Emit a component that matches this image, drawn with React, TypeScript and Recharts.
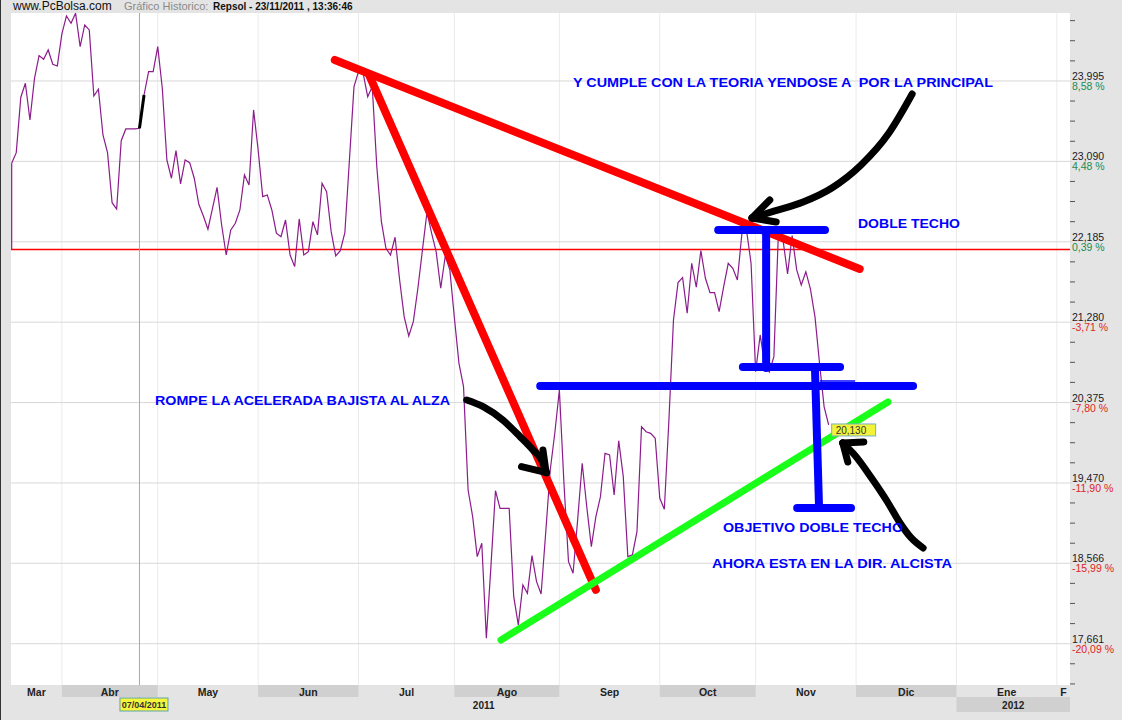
import React from "react";
import { ComposedChart, Line, XAxis, YAxis, CartesianGrid, ReferenceLine, ReferenceDot } from "recharts";

// Repsol closes, one per trading day (index 0 = mid March 2011, 179 = 23/11/2011)
const prices = [
  23.069, 23.188, 23.812, 23.969, 23.556, 24.025, 24.28, 24.239, 24.344, 24.183,
  24.164, 24.524, 24.727, 24.644, 24.757, 24.381, 24.625, 24.569, 23.826, 23.902,
  23.387, 23.188, 22.625, 22.554, 23.323, 23.455, 23.455, 23.455, 23.463, 23.837,
  24.1, 24.1, 24.381, 23.913, 23.106, 22.9, 23.21, 22.836, 23.106, 23.075,
  22.9, 22.607, 22.475, 22.326, 22.562, 22.798, 22.374, 22.036, 22.318, 22.393,
  22.543, 22.937, 22.824, 23.669, 23.218, 22.693, 22.712, 22.543, 22.281, 22.242,
  22.43, 22.036, 21.905, 22.442, 22.036, 22.074, 22.411, 22.262, 22.844, 22.749,
  22.299, 22.025, 22.085, 22.287, 23.106, 23.931, 24.1, 24.082, 23.818, 23.931,
  23.03, 22.411, 22.112, 22.036, 22.236, 21.755, 21.339, 21.125, 21.286, 21.662,
  22.093, 22.52, 22.281, 22.074, 21.662, 22.025, 21.868, 21.327, 20.817, 20.554,
  19.391, 19.091, 18.641, 18.791, 17.722, 18.528, 19.383, 19.185, 19.185, 19.185,
  18.19, 17.872, 18.322, 18.228, 18.652, 18.359, 18.221, 18.907, 19.616, 20.033,
  20.517, 19.47, 18.584, 18.454, 19.054, 19.692, 19.203, 18.753, 19.091, 19.316,
  19.804, 19.785, 19.335, 19.946, 19.541, 18.641, 18.66, 18.922, 20.104, 20.047,
  20.029, 19.973, 19.298, 19.174, 20.179, 21.305, 21.725, 21.781, 21.38, 21.943,
  21.673, 22.085, 21.774, 21.612, 21.612, 21.398, 21.68, 21.943, 21.887, 21.755,
  22.281, 22.318, 21.943, 20.723, 21.136, 20.798, 20.719, 20.892, 22.299, 22.205,
  21.823, 22.254, 21.868, 21.699, 21.848, 21.654, 21.342, 20.817, 20.329, 20.123,
];
const basePrice = 22.098;
const lastLabel = "20,130";

const monthLabels = ["Mar", "Abr", "May", "Jun", "Jul", "Ago", "Sep", "Oct", "Nov", "Dic", "Ene", "F"];
const monthStarts = [-0.15, 11, 32, 54, 76, 97, 120, 142, 163, 185, 207, 229];
const yearLabels = ["2011", "2012"];
const yearStarts = [-0.15, 207];

const priceTicks = [17.661, 18.566, 19.47, 20.375, 21.28, 22.185, 23.09, 23.995];
const priceLabels = ["17,661", "18,566", "19,470", "20,375", "21,280", "22,185", "23,090", "23,995"];
const pctLabels = ["-20,09 %", "-15,99 %", "-11,90 %", "-7,80 %", "-3,71 %", "0,39 %", "4,48 %", "8,58 %"];
const minorTicks = [
  17.208, 17.435, 17.887, 18.114, 18.34, 18.792, 19.018, 19.245, 19.697, 19.923, 20.149,
  20.602, 20.828, 21.054, 21.506, 21.733, 21.959, 22.411, 22.638, 22.864, 23.316, 23.543,
  23.769, 24.221, 24.448, 24.674,
];

const crossDay = 28;
const crossLabel = "07/04/2011";

// hand drawn annotations, in [day index, price]
const redLong = [[70.8, 24.231], [185.8, 21.879]];
const redFast = [[78.3, 24.063], [128.0, 18.266]];
const greenSupport = [[107.2, 17.703], [192.0, 20.382]];
const blueBars = [
  [[154.8, 22.318], [178.2, 22.318]],
  [[165.3, 22.307], [165.3, 20.765]],
  [[160.2, 20.776], [181.5, 20.776]],
  [[115.8, 20.562], [197.5, 20.562]],
  [[176.0, 20.765], [176.9, 19.189]],
  [[172.1, 19.189], [183.9, 19.189]],
];
const blueThin = [[177.1, 20.618], [184.8, 20.618]];
const blackMark = [[28.0, 23.463], [29.0, 23.837]];
const arrowTop = [[162.2, 22.453], [167.2, 22.532], [173.4, 22.633], [179.7, 22.791], [186.1, 23.05], [192.2, 23.41], [197.3, 23.849]];
const arrowTopHead = [[[162.2, 22.453], [166.1, 22.656]], [[162.2, 22.453], [167.5, 22.408]]];
const arrowBreak = [[99.7, 20.404], [103.3, 20.329], [107.6, 20.179], [111.4, 19.991], [114.2, 19.842], [116.2, 19.718], [117.1, 19.586]];
const arrowBreakHead = [[[116.4, 19.842], [117.1, 19.586]], [[111.7, 19.654], [117.2, 19.586]]];
const arrowNow = [[182.1, 19.92], [184.7, 19.785], [188.4, 19.526], [191.9, 19.256], [194.5, 19.031], [197.1, 18.851], [199.7, 18.738]];
const arrowNowHead = [[[182.1, 19.92], [186.7, 19.931]], [[182.1, 19.92], [183.2, 19.706]]];

const notes = [
  { text: "Y CUMPLE CON LA TEORIA YENDOSE A  POR LA PRINCIPAL", x: 573, y: 87, w: 420 },
  { text: "DOBLE TECHO", x: 858, y: 228, w: 102 },
  { text: "ROMPE LA ACELERADA BAJISTA AL ALZA", x: 155, y: 405, w: 295 },
  { text: "OBJETIVO DOBLE TECHO", x: 723, y: 532, w: 180 },
  { text: "AHORA ESTA EN LA DIR. ALCISTA", x: 712, y: 568, w: 240 },
];

const W = 1122;
const H = 720;
const X_MIN = -0.15;
const X_MAX = 231.88;
const Y_MIN = 17.196;
const Y_MAX = 24.76;
const PLOT = { left: 11, top: 13, width: 1059, height: 672 };
const PX_PER_DAY = PLOT.width / (X_MAX - X_MIN);
const FONT = "'Liberation Sans', Arial, sans-serif";

const series = prices.map((price, i) => ({ i, price }));
const pts = (arr: number[][]) => arr.map(([i, v]) => ({ i, v }));
const seg = (arr: number[][]) => arr.map(([x, y]) => ({ x, y }));

function PriceTick(props: any) {
  const { x, y, payload } = props;
  const j = priceTicks.findIndex((t) => Math.abs(t - payload.value) < 1e-4);
  if (j < 0) return <line x1={x} x2={x + 5} y1={y} y2={y} stroke="#555" />;
  const neg = pctLabels[j].startsWith("-");
  return (
    <g fontFamily={FONT} fontSize={10.5}>
      <line x1={x} x2={x + 2} y1={y} y2={y} stroke="#d6d6d6" />
      <text x={x + 2} y={y - 1} fill="#1a1a2a">{priceLabels[j]}</text>
      <text x={x + 2} y={y + 9} fill={neg ? "#e02424" : "#1f8a52"}>{pctLabels[j]}</text>
    </g>
  );
}

function MonthTick(props: any) {
  const { x, y, payload } = props;
  const k = monthStarts.indexOf(payload.value);
  if (k < 0) return null;
  const end = k + 1 < monthStarts.length ? monthStarts[k + 1] : X_MAX;
  const w = (end - monthStarts[k]) * PX_PER_DAY;
  const dark = k % 2 === 1 && k < 10;
  const yk = yearStarts.indexOf(payload.value);
  let year = null;
  if (yk >= 0) {
    const yEnd = yk + 1 < yearStarts.length ? yearStarts[yk + 1] : X_MAX;
    const yw = (yEnd - yearStarts[yk]) * PX_PER_DAY;
    year = (
      <g>
        {yk === 1 && <rect x={x} y={y + 12} width={yw} height={15} fill="#d0d0d0" />}
        <text x={x + yw / 2} y={y + 24} textAnchor="middle" fontSize={10} fontWeight="bold" fill="#222">
          {yearLabels[yk]}
        </text>
      </g>
    );
  }
  return (
    <g fontFamily={FONT}>
      {dark && <rect x={x} y={y} width={w} height={12} fill="#d0d0d0" />}
      <text x={x + w / 2} y={y + 10.5} textAnchor="middle" fontSize={10.5} fontWeight="bold" fill="#222">
        {monthLabels[k]}
      </text>
      {year}
    </g>
  );
}

function LastPrice(props: any) {
  const { cx, cy } = props;
  return (
    <g fontFamily={FONT}>
      <rect x={cx + 3} y={cy - 1} width={44} height={12} fill="#f2f23a" stroke="#7ab0c4" />
      <text x={cx + 7} y={cy + 9} fontSize={10} fill="#333">{lastLabel}</text>
    </g>
  );
}

function CrossBox(props: any) {
  const { cx, cy } = props;
  return (
    <g fontFamily={FONT}>
      <line x1={cx} x2={cx} y1={cy} y2={cy + 13} stroke="#7fb9b9" />
      <rect x={cx - 19.5} y={cy + 13} width={48} height={13} fill="#f5f53c" stroke="#5fa3a8" />
      <text x={cx + 4.5} y={cy + 23} textAnchor="middle" fontSize={9} fontWeight="bold" fill="#333">
        {crossLabel}
      </text>
    </g>
  );
}

const lineBase = { dot: false, activeDot: false, isAnimationActive: false, legendType: "none" as const };

export default function App() {
  return (
    <div style={{ position: "fixed", left: 0, top: 0, width: W, height: H, background: "#e4e4e4", overflow: "hidden" }}>
      <ComposedChart width={W} height={H} data={series} margin={{ top: PLOT.top, right: 0, left: PLOT.left, bottom: 0 }}>
        <CartesianGrid horizontal={false} verticalValues={monthStarts.slice(1)} stroke="#ebebeb" fill="#ffffff" />
        <CartesianGrid vertical={false} horizontalValues={priceTicks} stroke="#d8d8d8" />
        <XAxis
          dataKey="i"
          type="number"
          domain={[X_MIN, X_MAX]}
          allowDataOverflow
          ticks={monthStarts}
          interval={0}
          height={35}
          axisLine={false}
          tickLine={false}
          tickSize={0}
          tickMargin={0}
          tick={<MonthTick />}
        />
        <YAxis
          orientation="right"
          type="number"
          domain={[Y_MIN, Y_MAX]}
          allowDataOverflow
          ticks={[...priceTicks, ...minorTicks].sort((a, b) => a - b)}
          interval={0}
          width={52}
          axisLine={false}
          tickLine={false}
          tickSize={0}
          tickMargin={0}
          tick={<PriceTick />}
        />
        <ReferenceLine y={basePrice} stroke="#ff0000" strokeWidth={1.5} />
        <ReferenceLine x={crossDay} stroke="#7fbaba" strokeWidth={1} />
        <ReferenceLine segment={[{ x: 0, y: basePrice }, { x: 0, y: prices[0] }]} stroke="#8c1c8c" strokeWidth={1.2} />
        <Line dataKey="price" stroke="#8c1c8c" strokeWidth={1.2} {...lineBase} />
        <ReferenceDot x={prices.length - 1} y={prices[prices.length - 1]} r={1} shape={<LastPrice />} />
        <ReferenceDot x={crossDay} y={Y_MIN} r={1} shape={<CrossBox />} />
        <ReferenceLine segment={seg(blackMark)} stroke="#000" strokeWidth={3} />
        <ReferenceLine segment={seg(redLong)} stroke="#ff0000" strokeWidth={8} strokeLinecap="round" />
        <ReferenceLine segment={seg(redFast)} stroke="#ff0000" strokeWidth={8} strokeLinecap="round" />
        <ReferenceLine segment={seg(greenSupport)} stroke="#1aff1a" strokeWidth={7} strokeLinecap="round" />
        {blueBars.map((b, n) => (
          <ReferenceLine key={n} segment={seg(b)} stroke="#0000ff" strokeWidth={8} strokeLinecap="round" />
        ))}
        <ReferenceLine segment={seg(blueThin)} stroke="#0000ff" strokeWidth={1.5} />
        <Line data={pts(arrowTop)} dataKey="v" type="monotone" stroke="#000" strokeWidth={7} strokeLinecap="round" {...lineBase} />
        <Line data={pts(arrowBreak)} dataKey="v" type="monotone" stroke="#000" strokeWidth={7} strokeLinecap="round" {...lineBase} />
        <Line data={pts(arrowNow)} dataKey="v" type="monotone" stroke="#000" strokeWidth={7} strokeLinecap="round" {...lineBase} />
        {[...arrowTopHead, ...arrowBreakHead, ...arrowNowHead].map((h, n) => (
          <ReferenceLine key={"h" + n} segment={seg(h)} stroke="#000" strokeWidth={7} strokeLinecap="round" />
        ))}
      </ComposedChart>
      <svg width={W} height={H} style={{ position: "absolute", left: 0, top: 0, pointerEvents: "none" }}>
        <line x1={0.5} x2={0.5} y1={0} y2={H} stroke="#333" />
        <text x={13} y={9.5} fontFamily={FONT} fontSize={12} fill="#111">www.PcBolsa.com</text>
        <text x={124} y={9.5} fontFamily={FONT} fontSize={11} fill="#8a8a8a">Gráfico Historico:</text>
        <text x={213} y={9.5} fontFamily={FONT} fontSize={10} fontWeight="bold" fill="#111">
          Repsol - 23/11/2011 , 13:36:46
        </text>
        {notes.map((n) => (
          <text
            key={n.text}
            x={n.x}
            y={n.y}
            textLength={n.w}
            lengthAdjust="spacingAndGlyphs"
            fontFamily={FONT}
            fontSize={13}
            fontWeight="bold"
            fill="#0000ff"
            style={{ whiteSpace: "pre" }}
          >
            {n.text}
          </text>
        ))}
      </svg>
    </div>
  );
}
